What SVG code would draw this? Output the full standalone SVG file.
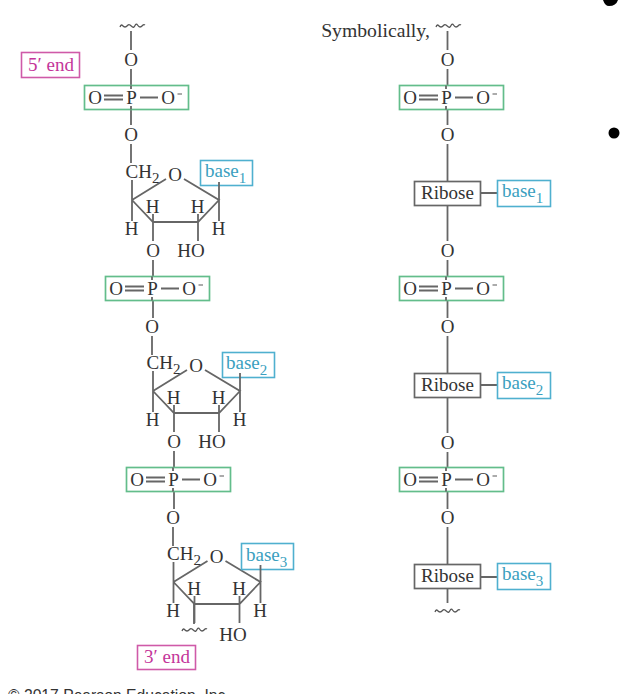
<svg xmlns="http://www.w3.org/2000/svg" width="626" height="694" viewBox="0 0 626 694">
<style>
text{font-family:"Liberation Serif","Times New Roman",serif;font-size:19px;fill:#333;text-anchor:middle}
.sub{font-size:15px}
.l{fill:none;stroke:#666;stroke-width:1.8}
.w{fill:none;stroke:#555;stroke-width:1.3}
.g{fill:#fff;stroke:#63bd8b;stroke-width:1.7}
.b{fill:#fff;stroke:#4fb0cf;stroke-width:1.6}
.m{fill:#fff;stroke:#cf5aa8;stroke-width:1.6}
.r{fill:#fff;stroke:#666;stroke-width:1.7}
text.bt{fill:#3a9fc0}
text.mt{fill:#c4359a}
text.st{text-anchor:start}
text.cr{font-family:"Liberation Sans",Arial,sans-serif;font-size:15.700px;fill:#333;text-anchor:start}
text.sy{font-size:19.700px}
</style>
<defs>
<g id="ph">
<rect class="g" x="84.500" y="85.500" width="104" height="24"/>
<path class="l" d="M131 85.500V89M131 106V109.500"/>
<path class="l" d="M104 95.500H123M104 99.500H123M140 97.500H158"/>
<text x="95" y="104">O</text><text x="131.500" y="104">P</text><text x="168" y="104">O</text><path class="l" d="M177.500 94H182" style="stroke-width:1.100"/>
</g>
<g id="ring">
<path class="l" d="M132 180V221M132 200L166 179M184 179L219 200L198 222H153L132 200M153 222V214M198 222V214M153 222V241M198 222V241M219 200V221"/>
<text x="152.500" y="212.500">H</text><text x="197.500" y="212.500">H</text><text x="131.500" y="235">H</text><text x="218.500" y="235">H</text>
<text x="175" y="181">O</text>
<text x="125.500" y="178" class="st">CH<tspan class="sub" dy="5">2</tspan></text>
</g>
</defs>

<g id="connectors">
<path class="l" d="M131 31V50M131 69V85M131 110V125M131 144V163M153 260V276M153 301V318M152 336V355M174 451V467M174 492V509M173 527V546M194 604V624"/>
<path class="l" d="M447.500 31V50M447.500 69V85M447.500 110V125M447.500 144V181M447.500 205V241M447.500 260V276M447.500 301V318M447.500 336V373M447.500 397V433M447.500 452V467M447.500 492V509M447.500 527V564M447.500 588V603"/>
<path class="l" d="M480 193H497M480 385H497M480 577H497"/>
<path class="w" d="M120 27q1.250-3 2.500-1.500t2.500 1.500t2.500-1.500t2.500-0.500t2.500 2t2.500-1.500t2.500-0.500t2.500 2t2.500-1.500t2.500-0.500"/>
<path class="w" d="M436 27q1.250-3 2.500-1.500t2.500 1.500t2.500-1.500t2.500-0.500t2.500 2t2.500-1.500t2.500-0.500t2.500 2t2.500-1.500t2.500-0.500"/>
<path class="w" d="M435 612q1.250-3 2.500-1.500t2.500 1.500t2.500-1.500t2.500-0.500t2.500 2t2.500-1.500t2.500-0.500t2.500 2t2.500-1.500t2.500-0.500"/>
<path class="w" d="M182 631q1.250-3 2.500-1.500t2.500 1.500t2.500-1.500t2.500-0.500t2.500 2t2.500-1.500t2.500-0.500t2.500 2t2.500-1.500t2.500-0.500"/>
</g>

<g id="end5"><rect class="m" x="21.500" y="52.500" width="58" height="25"/><text x="51" y="71" class="mt">5′ end</text></g>
<g id="o-l1"><text x="131" y="66">O</text></g>
<g id="phosphate-l1"><use href="#ph"/></g>
<g id="o-l2"><text x="131" y="141">O</text></g>
<g id="sugar-1"><use href="#ring"/>
<rect class="b" x="200.500" y="160.500" width="52" height="25"/><path class="l" d="M219 182V200"/><text x="205" y="177" class="bt st">base<tspan class="sub" dy="6">1</tspan></text>
<text x="153" y="257">O</text><text x="191" y="257">HO</text></g>

<g id="phosphate-l2" transform="translate(21 191)"><use href="#ph"/></g>
<g id="o-l3"><text x="152" y="333">O</text></g>
<g id="sugar-2"><g transform="translate(21 191)"><use href="#ring"/></g>
<rect class="b" x="222.500" y="352.500" width="52" height="25"/><path class="l" d="M240 373V391"/><text x="226" y="369" class="bt st">base<tspan class="sub" dy="6">2</tspan></text>
<text x="174" y="448">O</text><text x="212" y="448">HO</text></g>

<g id="phosphate-l3" transform="translate(42 382)"><use href="#ph"/></g>
<g id="o-l4"><text x="173" y="524">O</text></g>
<g id="sugar-3"><g transform="translate(41.500 382)"><use href="#ring"/></g>
<rect class="b" x="241.500" y="543.500" width="52" height="26"/><path class="l" d="M260.500 565V582"/><text x="246" y="561" class="bt st">base<tspan class="sub" dy="6">3</tspan></text>
<text x="233" y="641">HO</text></g>
<g id="end3"><rect class="m" x="137.500" y="645.500" width="58" height="24"/><text x="167" y="663" class="mt">3′ end</text></g>

<g id="label-symbolically"><text class="sy" x="375.500" y="37">Symbolically,</text></g>
<g id="o-r1"><text x="447.500" y="66">O</text></g>
<g id="phosphate-r1" transform="translate(315 0)"><use href="#ph"/></g>
<g id="o-r2"><text x="447.500" y="141">O</text></g>
<g id="ribose-1"><rect class="r" x="414.500" y="181.500" width="66" height="24"/><text x="447.500" y="199">Ribose</text></g>
<g id="base-r1"><rect class="b" x="497.500" y="180.500" width="53" height="26"/><text x="502" y="197" class="bt st">base<tspan class="sub" dy="6">1</tspan></text></g>
<g id="o-r3"><text x="447.500" y="257">O</text></g>
<g id="phosphate-r2" transform="translate(315 191)"><use href="#ph"/></g>
<g id="o-r4"><text x="447.500" y="333">O</text></g>
<g id="ribose-2"><rect class="r" x="414.500" y="373.500" width="66" height="24"/><text x="447.500" y="391">Ribose</text></g>
<g id="base-r2"><rect class="b" x="497.500" y="372.500" width="53" height="26"/><text x="502" y="389" class="bt st">base<tspan class="sub" dy="6">2</tspan></text></g>
<g id="o-r5"><text x="447.500" y="449">O</text></g>
<g id="phosphate-r3" transform="translate(315 382)"><use href="#ph"/></g>
<g id="o-r6"><text x="447.500" y="524">O</text></g>
<g id="ribose-3"><rect class="r" x="414.500" y="564.500" width="66" height="24"/><text x="447.500" y="582">Ribose</text></g>
<g id="base-r3"><rect class="b" x="497.500" y="563.500" width="53" height="26"/><text x="502" y="580" class="bt st">base<tspan class="sub" dy="6">3</tspan></text></g>

<circle cx="614" cy="133" r="5.500" fill="#000"/>
<path d="M603 0H618Q616 6 609 6Q605 6 603 0Z" fill="#000"/>
<text class="cr" x="8" y="701">© 2017 Pearson Education, Inc.</text>
</svg>
